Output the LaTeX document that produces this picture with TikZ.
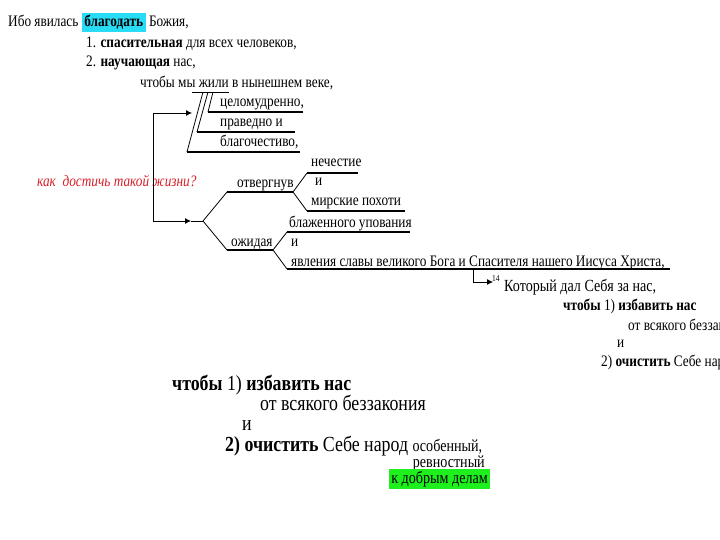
\documentclass[tikz,border=0pt]{standalone}
\usepackage{fontspec}
\setmainfont[FakeStretch=0.83]{Liberation Serif}
\usetikzlibrary{arrows.meta}
\definecolor{hlcyan}{RGB}{40,220,245}
\definecolor{hlgreen}{RGB}{30,240,30}
\definecolor{qred}{RGB}{215,30,40}
\begin{document}
\begin{tikzpicture}[x=1pt,y=-1pt,
  txt/.style={anchor=base west, inner sep=0pt, font=\fontsize{16}{19}\selectfont},
  bigtxt/.style={anchor=base west, inner sep=0pt, font=\fontsize{21.5}{25}\selectfont},
  midtxt/.style={anchor=base east, inner sep=0pt, font=\fontsize{17}{20}\selectfont},
  ul/.style={line width=1.3pt},
  ulthick/.style={line width=1.9pt},
  sl/.style={line width=0.8pt},
  arr/.style={line width=0.8pt, -{Latex[length=6pt,width=6pt]}}]
\useasboundingbox (0,0) rectangle (720,540);
\clip (0,0) rectangle (720,540);
\setlength{\fboxsep}{2.5pt}
% ---- text ----
\node[txt] (t1) at (8,27) {Ибо явилась \colorbox{hlcyan}{\textbf{благодать}} Божия,};
\node[txt] (t2) at (86,48) {1. \textbf{спасительная} для всех человеков,};
\node[txt] (t3) at (86,67) {2. \textbf{научающая} нас,};
\node[txt] (t4) at (140,88) {чтобы мы жили в нынешнем веке,};
\node[txt] (t5) at (220,107) {целомудренно,};
\node[txt] (t6) at (220,127) {праведно и};
\node[txt] (t7) at (220,147) {благочестиво,};
\node[txt, text=qred] (q) at (37,187) {\itshape как\ \ достичь такой жизни?};
\node[txt] (otv) at (237,188) {отвергнув};
\node[txt] (ne) at (311,167) {нечестие};
\node[txt] (i1) at (315,186) {и};
\node[txt] (mir) at (311,206) {мирские похоти};
\node[txt] (ozh) at (231,246) {ожидая};
\node[txt] (bl) at (289,227) {блаженного упования};
\node[txt] (i2) at (291,247) {и};
\node[txt] (yav) at (291,266) {явления славы великого Бога и Спасителя нашего Иисуса Христа,};
\node[anchor=base west, inner sep=0pt, font=\fontsize{9}{10}\selectfont] (n14) at (492,281) {14};
\node[txt, font=\fontsize{17}{20}\selectfont] (kot) at (504,291) {Который дал Себя за нас,};
\node[txt] (r1) at (563,310) {\textbf{чтобы} 1) \textbf{избавить нас}};
\node[txt] (r2) at (628,330) {от всякого беззакония};
\node[txt] (r3) at (617,347) {и};
\node[txt] (r4) at (601,366) {2) \textbf{очистить} Себе народ особенный,};
% ---- bottom block ----
\node[bigtxt] (b1) at (172,390) {\textbf{чтобы} 1) \textbf{избавить нас}};
\node[bigtxt] (b2) at (260,410) {от всякого беззакония};
\node[bigtxt] (b3) at (242,430) {и};
\node[bigtxt] (b4) at (225,451) {\textbf{2) очистить} Себе народ {\fontsize{17}{20}\selectfont особенный,}};
\node[midtxt] (b5) at (485,467) {ревностный};
\node[midtxt] (b6) at (490,483) {\setlength{\fboxsep}{2pt}\colorbox{hlgreen}{к добрым делам}};
% ---- coordinates ----
\coordinate (zhA) at (192,92); \coordinate (zhB) at (229,92);
\coordinate (sA0) at (203,92); \coordinate (sA1) at (187,152); \coordinate (sA2) at (300,152);
\coordinate (sB0) at (208,92); \coordinate (sB1) at (197,132); \coordinate (sB2) at (295,132);
\coordinate (sC0) at (213,92); \coordinate (sC1) at (208,112); \coordinate (sC2) at (303,112);
\coordinate (aTop) at (192,113); \coordinate (aC1) at (153,113); \coordinate (aC2) at (153,221); \coordinate (aBot) at (191,221);
\coordinate (fk) at (203,221);
\coordinate (fU1) at (227,192); \coordinate (fU2) at (293,192);
\coordinate (fD1) at (227,250); \coordinate (fD2) at (273,250);
\coordinate (oU1) at (307,173); \coordinate (oU2) at (358,173);
\coordinate (oD1) at (307,211); \coordinate (oD2) at (405,211);
\coordinate (eU1) at (287,232); \coordinate (eU2) at (410,232);
\coordinate (eD1) at (287,269); \coordinate (eD2) at (670,269);
\coordinate (k0) at (473,269); \coordinate (k1) at (473,282); \coordinate (k2) at (493,282);
% ---- lines ----
\draw[sl] (zhA) -- (zhB);
\draw[sl] (sA0) -- (sA1); \draw[ul] (sA1) -- (sA2);
\draw[sl] (sB0) -- (sB1); \draw[ul] (sB1) -- (sB2);
\draw[sl] (sC0) -- (sC1); \draw[ul] (sC1) -- (sC2);
\draw[arr] (aC1) -- (aTop);
\draw[sl] (aC1) -- (aC2);
\draw[arr] (aC2) -- (aBot);
\draw[sl] (aBot) -- (fk);
\draw[sl] (fk) -- (fU1); \draw[ul] (fU1) -- (fU2);
\draw[sl] (fk) -- (fD1); \draw[ul] (fD1) -- (fD2);
\draw[sl] (fU2) -- (oU1); \draw[ul] (oU1) -- (oU2);
\draw[sl] (fU2) -- (oD1); \draw[ul] (oD1) -- (oD2);
\draw[sl] (fD2) -- (eU1); \draw[ulthick] (eU1) -- (eU2);
\draw[sl] (fD2) -- (eD1); \draw[ul] (eD1) -- (eD2);
\draw[sl] (k0) -- (k1);
\draw[arr] (k1) -- (k2);
\end{tikzpicture}
\end{document}
